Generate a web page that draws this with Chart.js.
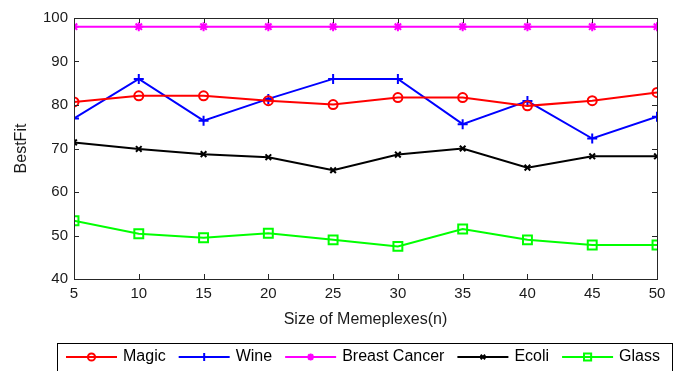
<!DOCTYPE html>
<html>
<head>
<meta charset="utf-8">
<script src="https://cdn.jsdelivr.net/npm/chart.js@4/dist/chart.umd.min.js"></script>
<style>
  html, body { margin: 0; padding: 0; background: #fff; }
  #wrap { width: 675px; height: 371px; }
</style>
</head>
<body>
<div id="wrap"><canvas id="graph" width="675" height="371"></canvas></div>
<script>
// tailles des memeplexes (axe x)
const tailles = [5, 10, 15, 20, 25, 30, 35, 40, 45, 50];

// valeurs BestFit
const magic = [80.7, 82.1, 82.1, 81.0, 80.1, 81.7, 81.7, 79.8, 81.0, 82.9];
const wine = [76.9, 86.0, 76.4, 81.4, 86.0, 86.0, 75.6, 80.9, 72.3, 77.3];
const breastCancer = [98.0, 98.0, 98.0, 98.0, 98.0, 98.0, 98.0, 98.0, 98.0, 98.0];
const ecoli = [71.4, 69.9, 68.7, 68.0, 65.0, 68.6, 70.0, 65.6, 68.2, 68.2];
const glass = [53.4, 50.4, 49.5, 50.5, 49.0, 47.5, 51.5, 49.0, 47.8, 47.8];

// graduations de l'axe y
const yTicks = [40, 50, 60, 70, 80, 90, 100];

const police = "'Liberation Sans', Arial, sans-serif";

function serie(label, data, couleur, style, rayon) {
  const creux = style === 'circle' || style === 'rect';
  return {
    label: label,
    data: data,
    borderColor: couleur,
    backgroundColor: couleur,
    pointBorderColor: couleur,
    pointBackgroundColor: creux ? 'rgba(0,0,0,0)' : couleur,
    pointStyle: style,
    pointRadius: rayon,
    pointBorderWidth: 2,
    borderWidth: 2,
    tension: 0,
    fill: false
  };
}

const datasets = [
  serie('Magic', magic, '#ff0000', 'circle', 4.5),
  serie('Wine', wine, '#0000ff', 'cross', 5),
  serie('Breast Cancer', breastCancer, '#ff00ff', 'star', 4.5),
  serie('Ecoli', ecoli, '#000000', 'crossRot', 4),
  serie('Glass', glass, '#00ff00', 'rect', 6.3)
];

// cadre, graduations intérieures et légende façon MATLAB
const cadreMatlab = {
  id: 'cadreMatlab',
  afterDraw(chart) {
    const ctx = chart.ctx;
    const a = chart.chartArea;
    const sx = chart.scales.x, sy = chart.scales.y;
    ctx.save();
    ctx.strokeStyle = '#262626';
    ctx.lineWidth = 1;
    ctx.strokeRect(Math.round(a.left) + 0.5, Math.round(a.top) + 0.5,
      Math.round(a.right - a.left), Math.round(a.bottom - a.top));
    ctx.beginPath();
    tailles.forEach(t => {
      const x = Math.round(sx.getPixelForValue(t)) + 0.5;
      ctx.moveTo(x, a.bottom); ctx.lineTo(x, a.bottom - 5);
      ctx.moveTo(x, a.top); ctx.lineTo(x, a.top + 5);
    });
    yTicks.forEach(v => {
      const y = Math.round(sy.getPixelForValue(v)) + 0.5;
      ctx.moveTo(a.left, y); ctx.lineTo(a.left + 5, y);
      ctx.moveTo(a.right, y); ctx.lineTo(a.right - 5, y);
    });
    ctx.stroke();

    // légende
    ctx.strokeStyle = '#000';
    ctx.strokeRect(57.5, 343.5, 615, 40);
    ctx.font = '16px ' + police;
    ctx.textBaseline = 'middle';
    let x = 66;
    const y = 357;
    chart.data.datasets.forEach(ds => {
      ctx.strokeStyle = ds.borderColor;
      ctx.lineWidth = 2;
      ctx.beginPath();
      ctx.moveTo(x, y); ctx.lineTo(x + 51, y);
      ctx.stroke();
      ctx.fillStyle = ds.pointBackgroundColor;
      Chart.helpers.drawPoint(ctx, {
        pointStyle: ds.pointStyle,
        radius: ds.pointRadius * 0.8,
        borderWidth: 2
      }, x + 25.5, y);
      ctx.fillStyle = '#000';
      ctx.fillText(ds.label, x + 57, y);
      x += 57 + ctx.measureText(ds.label).width + 13;
    });
    ctx.restore();
  }
};

new Chart(document.getElementById('graph').getContext('2d'), {
  type: 'line',
  data: { labels: tailles, datasets: datasets },
  options: {
    responsive: false,
    animation: false,
    layout: { padding: { top: 18, right: 18, bottom: 42, left: 0 } },
    plugins: {
      legend: { display: false },
      tooltip: { enabled: false }
    },
    scales: {
      x: {
        type: 'linear',
        min: 5,
        max: 50,
        afterFit: s => { s.height = 50; },
        afterBuildTicks: s => { s.ticks = tailles.map(v => ({ value: v })); },
        grid: { display: false, drawTicks: false },
        border: { display: false },
        ticks: { color: '#1a1a1a', font: { family: police, size: 15 }, padding: 6, maxRotation: 0 },
        title: { display: true, text: 'Size of Memeplexes(n)', color: '#1a1a1a', font: { family: police, size: 16 }, padding: 0 }
      },
      y: {
        min: 40,
        max: 100,
        afterFit: s => { s.width = 74; },
        afterBuildTicks: s => { s.ticks = yTicks.map(v => ({ value: v })); },
        grid: { display: false, drawTicks: false },
        border: { display: false },
        ticks: { color: '#1a1a1a', font: { family: police, size: 15 }, padding: 6 },
        title: { display: true, text: 'BestFit', color: '#1a1a1a', font: { family: police, size: 16 }, padding: { top: 12, bottom: 0 } }
      }
    }
  },
  plugins: [cadreMatlab]
});
</script>
</body>
</html>
